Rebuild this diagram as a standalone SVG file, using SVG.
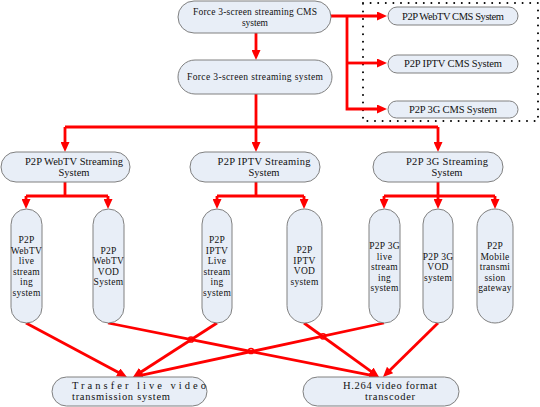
<svg xmlns="http://www.w3.org/2000/svg" width="540" height="407" viewBox="0 0 540 407">
<style>
.n{fill:#E8EEF7;stroke:#808080;stroke-width:1}
.s{font-family:"Liberation Serif","DejaVu Serif",serif;font-size:9.5px;fill:#111;text-anchor:middle}
.k{letter-spacing:0.3px}
.b{font-family:"Liberation Serif","DejaVu Serif",serif;font-size:10.5px;fill:#111;text-anchor:middle}
.c{fill:none;stroke:#FF0000;stroke-width:2.8}
.a{marker-end:url(#ah)}
.hop{fill:none;stroke:#FF0000;stroke-width:1.5}
</style>
<defs>
<marker id="ah" markerUnits="userSpaceOnUse" markerWidth="10" markerHeight="9" viewBox="0 0 10 9" refX="1" refY="4.5" orient="auto">
<path d="M0 0 L10 4.5 L0 9 z" fill="#FF0000"/>
</marker>
</defs>
<rect width="540" height="407" fill="#FFFFFF"/>
<rect x="363" y="3" width="175" height="118" fill="none" stroke="#000" stroke-width="2" stroke-linecap="round" stroke-dasharray="0 7.6"/>
<g id="connectors">
<path class="c a" d="M256 33 V51"/>
<path class="c a" d="M331 16 H378"/>
<path class="c a" d="M347 16 V109 H378"/>
<path class="c a" d="M347 63 H378"/>
<path class="c" d="M256 94 V127 M65 127 H438"/>
<path class="c a" d="M256 127 V143"/>
<path class="c a" d="M65 127 V143"/>
<path class="c a" d="M438 127 V143"/>
<path class="c" d="M65 182 V196 M26 196 H108"/>
<path class="c a" d="M26 196 V200"/>
<path class="c a" d="M108 196 V200"/>
<path class="c" d="M256 182 V196 M217 196 H304"/>
<path class="c a" d="M217 196 V200"/>
<path class="c a" d="M304 196 V200"/>
<path class="c" d="M438 182 V196 M384 196 H495"/>
<path class="c a" d="M384 196 V200"/>
<path class="c a" d="M438 196 V200"/>
<path class="c a" d="M495 196 V200"/>
<path class="c a" d="M26 323 L119 372.8"/>
<path class="c a" d="M108 323 L370.2 375.2"/>
<path class="c a" d="M217 323 L140.6 372.2"/>
<path class="c a" d="M304 323 L371.7 371.8"/>
<path class="c a" d="M384 323 L141.8 375.1"/>
<path class="c a" d="M438 323 L389.4 370.7"/>
<circle class="hop" cx="191" cy="339.5" r="2.6"/>
<circle class="hop" cx="251" cy="351" r="2.6"/>
<circle class="hop" cx="323" cy="336.3" r="2.6"/>
</g>
<g id="cms-top">
<rect class="n" x="178" y="1" width="153" height="32" rx="16"/>
<text class="s" x="255" y="15" textLength="124" lengthAdjust="spacing">Force 3-screen streaming CMS</text>
<text class="s" x="255" y="25.5" textLength="26" lengthAdjust="spacing">system</text>
</g>
<g id="streaming-top">
<rect class="n" x="178" y="60" width="154" height="34" rx="17"/>
<text class="s" x="255" y="80" textLength="136" lengthAdjust="spacing">Force 3-screen streaming system</text>
</g>
<g id="cms-webtv">
<rect class="n" x="388" y="7" width="130" height="18" rx="9"/>
<text class="b" x="453" y="19.5" textLength="102" lengthAdjust="spacing">P2P WebTV CMS System</text>
</g>
<g id="cms-iptv">
<rect class="n" x="388" y="55" width="130" height="18" rx="9"/>
<text class="b" x="453" y="67" textLength="98" lengthAdjust="spacing">P2P IPTV CMS System</text>
</g>
<g id="cms-3g">
<rect class="n" x="388" y="101" width="130" height="17" rx="8.5"/>
<text class="b" x="453" y="113" textLength="88" lengthAdjust="spacing">P2P 3G CMS System</text>
</g>
<g id="webtv-streaming">
<rect class="n" x="1" y="152" width="129" height="30" rx="15"/>
<text class="b" x="74" y="164.5" textLength="98" lengthAdjust="spacing">P2P WebTV Streaming</text>
<text class="b" x="74" y="176" textLength="31" lengthAdjust="spacing">System</text>
</g>
<g id="iptv-streaming">
<rect class="n" x="190" y="152" width="130" height="30" rx="15"/>
<text class="b" x="264" y="164.5" textLength="93" lengthAdjust="spacing">P2P IPTV Streaming</text>
<text class="b" x="264" y="176" textLength="31" lengthAdjust="spacing">System</text>
</g>
<g id="g3-streaming">
<rect class="n" x="373" y="152" width="130" height="30" rx="15"/>
<text class="b" x="447" y="164.5" textLength="82" lengthAdjust="spacing">P2P 3G Streaming</text>
<text class="b" x="447" y="176" textLength="31" lengthAdjust="spacing">System</text>
</g>
<g id="webtv-live" class="s k">
<rect class="n" x="11" y="209" width="31" height="114" rx="15.5"/>
<text x="26.5" y="243">P2P</text>
<text x="26.5" y="253.5">WebTV</text>
<text x="26.5" y="264">live</text>
<text x="26.5" y="274.5">stream</text>
<text x="26.5" y="285">ing</text>
<text x="26.5" y="295.5">system</text>
</g>
<g id="webtv-vod" class="s k">
<rect class="n" x="93" y="209" width="31" height="114" rx="15.5"/>
<text x="108.5" y="253.5">P2P</text>
<text x="108.5" y="264">WebTV</text>
<text x="108.5" y="274.5">VOD</text>
<text x="108.5" y="285">System</text>
</g>
<g id="iptv-live" class="s k">
<rect class="n" x="202" y="209" width="30" height="114" rx="15"/>
<text x="217" y="243">P2P</text>
<text x="217" y="253.5">IPTV</text>
<text x="217" y="264">Live</text>
<text x="217" y="274.5">stream</text>
<text x="217" y="285">ing</text>
<text x="217" y="295.5">system</text>
</g>
<g id="iptv-vod" class="s k">
<rect class="n" x="287" y="209" width="35" height="114" rx="17.5"/>
<text x="304.5" y="253">P2P</text>
<text x="304.5" y="263.5">IPTV</text>
<text x="304.5" y="274">VOD</text>
<text x="304.5" y="284.5">system</text>
</g>
<g id="g3-live" class="s k">
<rect class="n" x="369" y="209" width="31" height="114" rx="15.5"/>
<text x="384.5" y="249">P2P 3G</text>
<text x="384.5" y="259.5">live</text>
<text x="384.5" y="270">stream</text>
<text x="384.5" y="280.5">ing</text>
<text x="384.5" y="291">system</text>
</g>
<g id="g3-vod" class="s k">
<rect class="n" x="423" y="209" width="30" height="114" rx="15"/>
<text x="438" y="259.5">P2P 3G</text>
<text x="438" y="270">VOD</text>
<text x="438" y="280.5">system</text>
</g>
<g id="mobile-gateway" class="s k">
<rect class="n" x="477" y="209" width="36" height="114" rx="18"/>
<text x="495" y="249">P2P</text>
<text x="495" y="259.5">Mobile</text>
<text x="495" y="270">transmi</text>
<text x="495" y="280.5">ssion</text>
<text x="495" y="291">gateway</text>
</g>
<g id="transfer-live">
<rect class="n" x="52" y="377" width="155" height="29" rx="14.5"/>
<text class="b" x="72" y="389" style="text-anchor:start" textLength="134" lengthAdjust="spacing">Transfer live video</text>
<text class="b" x="72" y="400" style="text-anchor:start" textLength="98" lengthAdjust="spacing">transmission system</text>
</g>
<g id="h264-transcoder">
<rect class="n" x="303" y="377" width="156" height="29" rx="14.5"/>
<text class="b" x="390" y="389" textLength="94" lengthAdjust="spacing">H.264 video format</text>
<text class="b" x="390" y="400" textLength="50" lengthAdjust="spacing">transcoder</text>
</g>
</svg>
